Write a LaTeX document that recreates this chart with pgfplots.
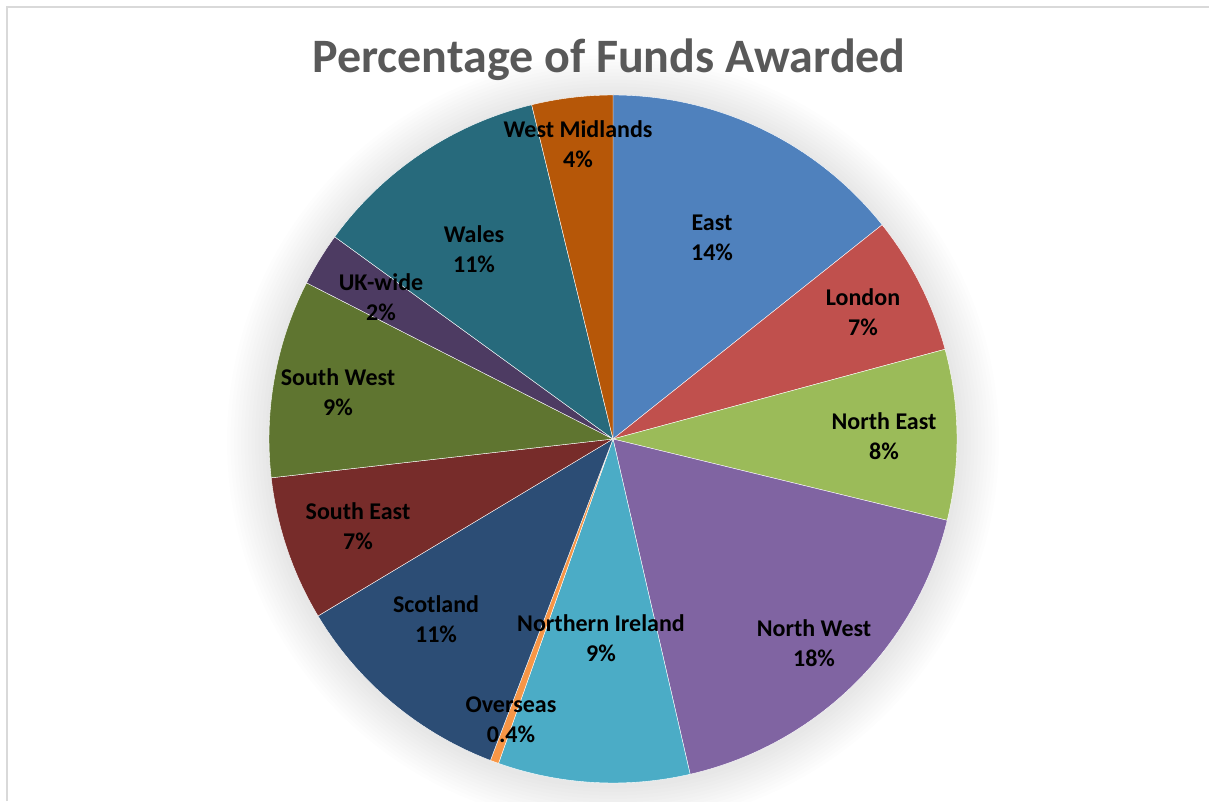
\documentclass[border=0pt]{standalone}
\usepackage{pgfplots}
\usepackage{pgfplotstable}
\pgfplotsset{compat=1.18}
\usepackage{fontspec}
\setmainfont{Carlito}
\definecolor{cEast}{HTML}{4F81BD}
\definecolor{cLondon}{HTML}{C0504D}
\definecolor{cNE}{HTML}{9BBB59}
\definecolor{cNW}{HTML}{8064A2}
\definecolor{cNI}{HTML}{4BACC6}
\definecolor{cOver}{HTML}{F79646}
\definecolor{cScot}{HTML}{2C4D75}
\definecolor{cSE}{HTML}{772C2A}
\definecolor{cSW}{HTML}{5F7530}
\definecolor{cUK}{HTML}{4D3B62}
\definecolor{cWales}{HTML}{276A7C}
\definecolor{cWM}{HTML}{B65708}
\definecolor{titlegray}{HTML}{595959}
\definecolor{framegray}{HTML}{D9D9D9}

% region, share (%), label shown, colour, label x, label y (image px)
\pgfplotstableread[col sep=comma]{
name,pct,lab,col,lx,ly
East,14.3,14,cEast,712,238
London,6.5,7,cLondon,863,312
North East,8.0,8,cNE,884,436
North West,17.6,18,cNW,814,643
Northern Ireland,9.0,9,cNI,601,638
Overseas,0.4,0.4,cOver,511,720
Scotland,10.6,11,cScot,436,619
South East,6.8,7,cSE,358,526
South West,9.3,9,cSW,338,392
UK-wide,2.5,2,cUK,381,297
Wales,11.2,11,cWales,474,249
West Midlands,3.8,4,cWM,578,144
}\pietable

\begin{document}
\begin{tikzpicture}
\begin{axis}[
  scale only axis, width=1209pt, height=801pt,
  xmin=0, xmax=1209, ymin=0, ymax=801,
  hide axis, clip=false,
]
\pgfplotsextra{%
  % frame
  \draw[framegray, line width=2pt] (axis cs:7,0) -- (axis cs:7,794) -- (axis cs:1209,794);
  % soft shadow
  \foreach \k in {1,...,12}{%
    \fill[black, opacity=0.007] (axis cs:613,360) circle[radius={(344+3.5*\k)*1pt}];
  }%
  \gdef\curang{90}%
  \pgfplotsforeachungrouped \i in {0,...,11}{%
    \pgfplotstablegetelem{\i}{pct}\of\pietable \let\slicepct=\pgfplotsretval
    \pgfplotstablegetelem{\i}{col}\of\pietable \let\slicecol=\pgfplotsretval
    \pgfmathsetmacro{\endang}{\curang-3.6*\slicepct}%
    \fill[\slicecol, draw=white, line width=0.4pt]
      (axis cs:613,362) -- ++(\curang:344pt)
      arc[start angle=\curang, end angle=\endang, radius=344pt] -- cycle;
    \xdef\curang{\endang}%
  }%
  \pgfplotsforeachungrouped \i in {0,...,11}{%
    \pgfplotstablegetelem{\i}{name}\of\pietable \let\slicename=\pgfplotsretval
    \pgfplotstablegetelem{\i}{lab}\of\pietable \let\slicelab=\pgfplotsretval
    \pgfplotstablegetelem{\i}{lx}\of\pietable \let\slicelx=\pgfplotsretval
    \pgfplotstablegetelem{\i}{ly}\of\pietable \let\slicely=\pgfplotsretval
    \pgfmathsetmacro{\slicey}{801-\slicely}%
    \node[align=center, font=\fontsize{24}{30}\selectfont\bfseries, text=black, inner sep=0pt]
      at (axis cs:\slicelx,\slicey) {\slicename\\\slicelab\%};
  }%
  \node[anchor=base, font=\fontsize{48}{56}\selectfont\bfseries, text=titlegray, inner sep=0pt]
    at (axis cs:609,728) {Percentage of Funds Awarded};
}
\end{axis}
\pgfresetboundingbox
\useasboundingbox (0,0) rectangle (1209pt,801pt);
\end{tikzpicture}
\end{document}
